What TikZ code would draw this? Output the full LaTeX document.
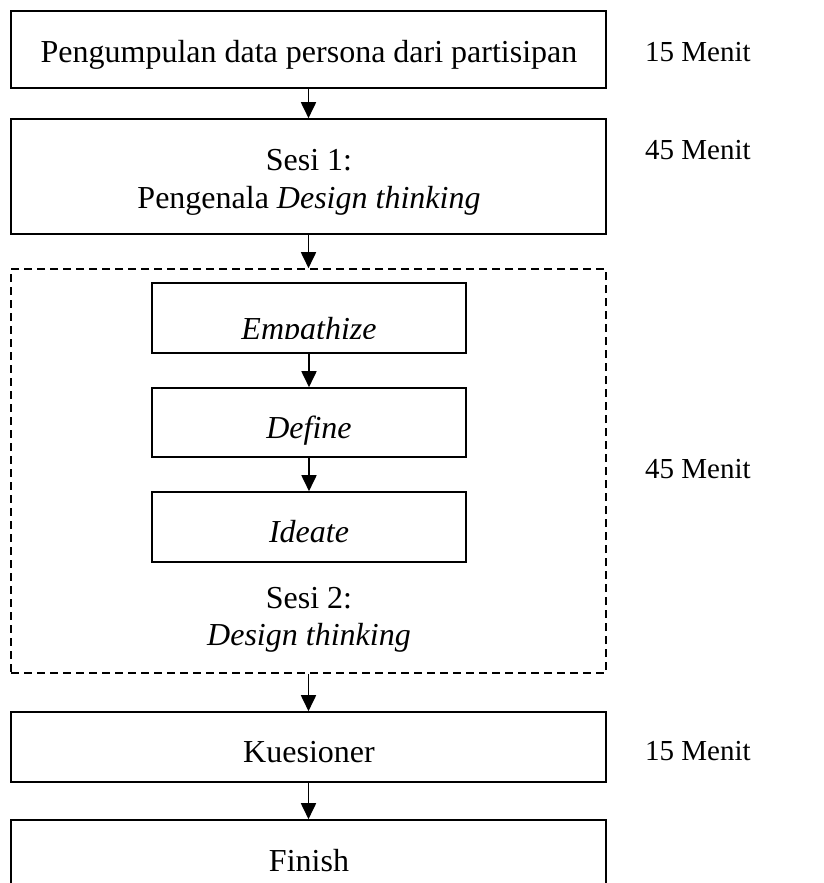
\documentclass[tikz,border=0pt]{standalone}
\usepackage{fontspec}
\setmainfont{Liberation Serif}
\usetikzlibrary{arrows.meta}
\begin{document}
\begin{tikzpicture}[x=1pt,y=-1pt,
  box/.style={draw, line width=1.6pt, rectangle, inner sep=0pt},
  dbox/.style={draw, line width=1.6pt, rectangle, inner sep=0pt, dash pattern=on 8pt off 5pt},
  lbl/.style={anchor=base, inner sep=0pt, font=\fontsize{32}{38}\selectfont},
  dur/.style={anchor=base west, inner sep=0pt, font=\fontsize{29}{35}\selectfont},
  arr/.style={line width=1.8pt, -{Triangle[length=16pt,width=15pt]}}]
\useasboundingbox (0,0) rectangle (824,883);
\clip (0,0) rectangle (824,883);
% boxes
\node[box, minimum width=595pt, minimum height=77pt] (b1) at (308.5,49.5) {};
\node[box, minimum width=595pt, minimum height=115pt] (b2) at (308.5,176.5) {};
\node[dbox, minimum width=595pt, minimum height=404pt] (dz) at (308.5,471) {};
\node[box, minimum width=314pt, minimum height=70pt] (emp) at (309,318) {};
\node[box, minimum width=314pt, minimum height=69pt] (def) at (309,422.5) {};
\node[box, minimum width=314pt, minimum height=70pt] (ide) at (309,527) {};
\node[box, minimum width=595pt, minimum height=70pt] (kue) at (308.5,747) {};
\node[box, minimum width=595pt, minimum height=120pt] (fin) at (308.5,880) {};
% texts
\node[lbl] (t1) at (309,63) {Pengumpulan data persona dari partisipan};
\node[lbl] (t2a) at (309,170) {Sesi 1:};
\node[lbl] (t2b) at (309,208) {Pengenala \textit{Design thinking}};
\begin{scope}
\clip (152,283) rectangle (466,338);
\node[lbl] (temp) at (309,339) {\textit{Empathize}};
\end{scope}
\node[lbl] (tdef) at (309,438) {\textit{Define}};
\node[lbl] (tide) at (309,542) {\textit{Ideate}};
\node[lbl] (ts2a) at (309,608) {Sesi 2:};
\node[lbl] (ts2b) at (309,645) {\textit{Design thinking}};
\node[lbl] (tkue) at (309,762) {Kuesioner};
\node[lbl] (tfin) at (309,871) {Finish};
% durations
\node[dur] (m1) at (645,62) {15 Menit};
\node[dur] (m2) at (645,159) {45 Menit};
\node[dur] (m3) at (645,478) {45 Menit};
\node[dur] (m4) at (645,760) {15 Menit};
% arrows
\draw[arr] (b1.south) -- (b2.north);
\draw[arr] (b2.south) -- (dz.north);
\draw[arr] (emp.south) -- (def.north);
\draw[arr] (def.south) -- (ide.north);
\draw[arr] (dz.south) -- (kue.north);
\draw[arr] (kue.south) -- (fin.north);
\end{tikzpicture}
\end{document}
